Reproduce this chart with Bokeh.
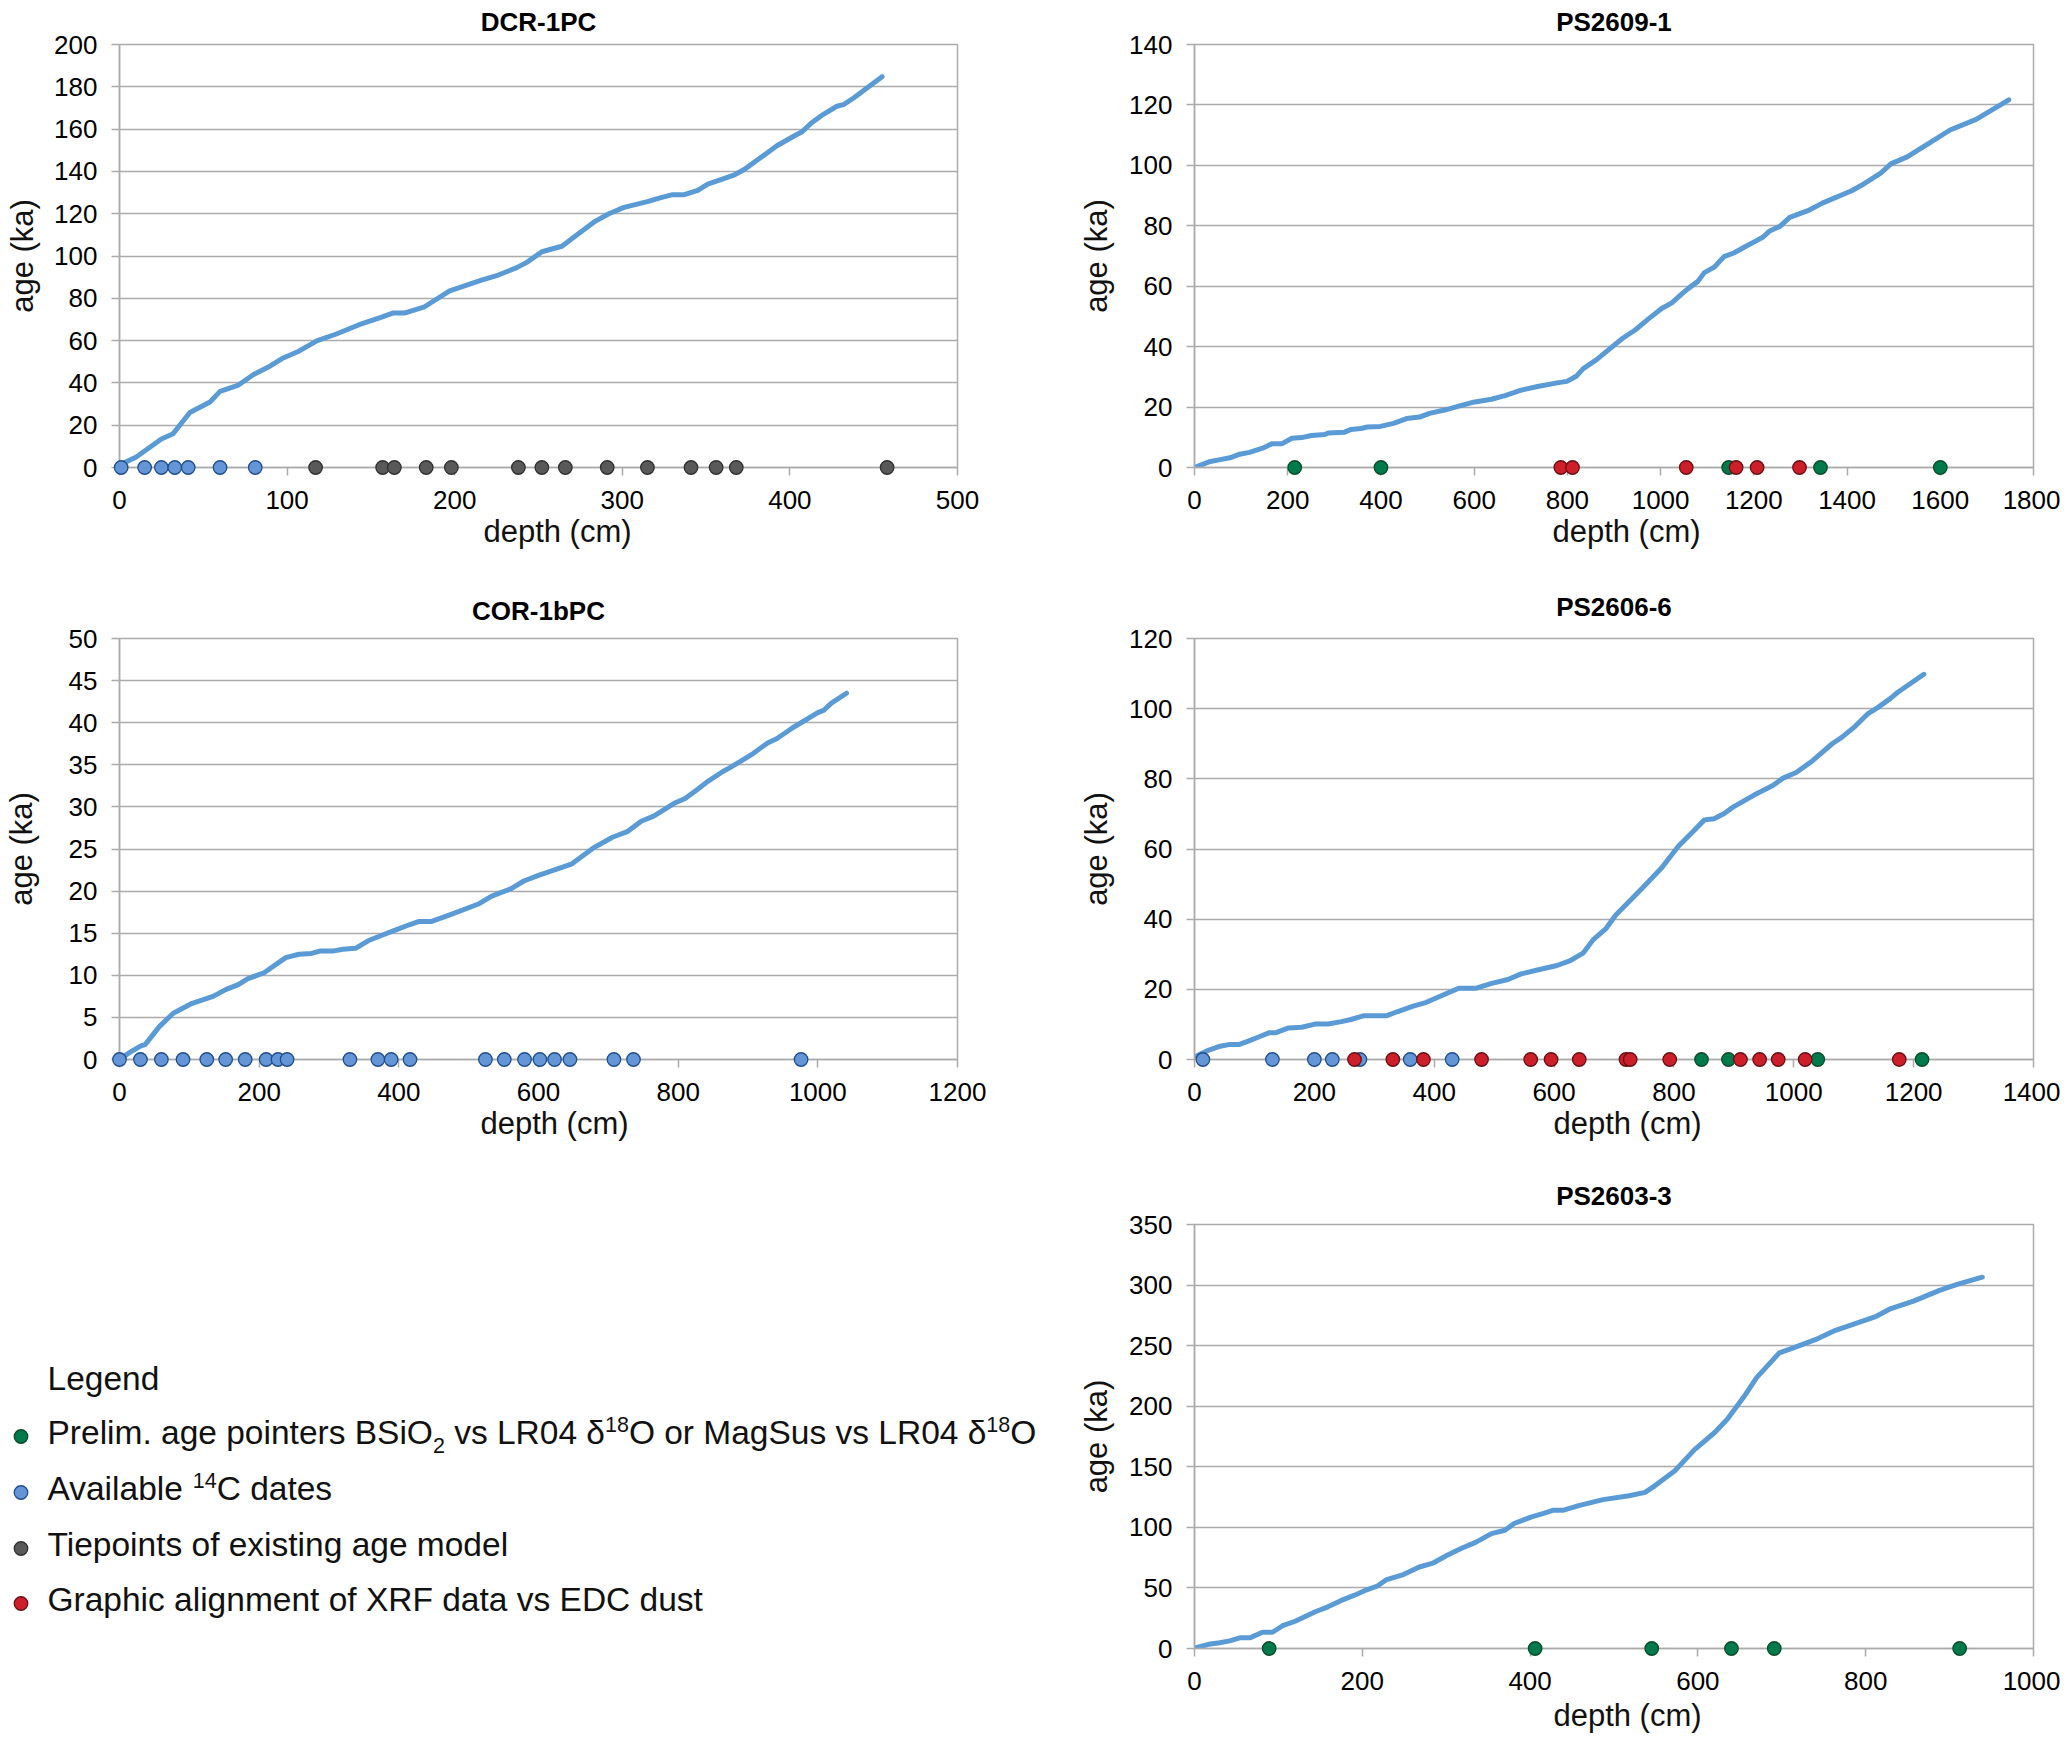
from bokeh.plotting import figure
from bokeh.models import Range1d, SingleIntervalTicker, Label, Title
from bokeh.layouts import row, column
from bokeh.embed import file_html
from bokeh.resources import INLINE

FONT = "Liberation Sans, Arial, sans-serif"
GRID = "#ABABAB"
LINE = "#5B9BD5"
C14_FILL, C14_EDGE = "#6495D6", "#1F4E8C"
TIE_FILL, TIE_EDGE = "#595959", "#303030"
GRN_FILL, GRN_EDGE = "#007A4A", "#0B4A2C"
RED_FILL, RED_EDGE = "#CC1F2A", "#6A0F14"

# ---------------- data ----------------
dcr_depth = [1, 10, 25, 32, 42, 54, 60, 71, 80, 90, 97, 107, 118, 129, 143, 156, 163, 170, 182, 197, 205,
             216, 226, 237, 243, 252, 264, 273, 284, 292, 301, 315, 322, 330, 337, 345, 351, 367, 373, 386,
             392, 402, 407, 413, 420, 428, 432, 438, 455]
dcr_age = [1.5, 5, 13.5, 16, 26, 31, 36, 39, 44, 48, 51.5, 55, 60, 63, 67.5, 71, 73, 73, 76, 83.5, 85.6,
           88.6, 91, 94.5, 97, 102, 104.6, 110, 116.5, 120, 123, 125.7, 127.4, 129, 129, 131, 134, 138.4, 141,
           148.5, 152, 156.5, 158.6, 163, 167, 170.8, 171.6, 174.7, 184.8]
dcr_c14 = [1, 15, 25, 33, 41, 60, 81]
dcr_tie = [117, 157, 164, 183, 198, 238, 252, 266, 291, 315, 341, 356, 368, 458]

ps2609_depth = [0, 34, 55, 76, 97, 118, 146, 167, 188, 209, 230, 251, 279, 287, 322, 336, 357, 371, 399, 427,
                455, 483, 504, 539, 567, 595, 637, 666, 701, 736, 778, 799, 820, 834, 862, 890, 918, 946, 974,
                1003, 1024, 1045, 1059, 1080, 1094, 1115, 1136, 1157, 1185, 1206, 1220, 1234, 1256, 1277, 1319,
                1347, 1410, 1431, 1473, 1494, 1529, 1578, 1621, 1677, 1747]
ps2609_age = [0, 2, 2.6, 3.2, 4.4, 5, 6.4, 7.9, 7.9, 9.7, 9.9, 10.6, 10.9, 11.4, 11.7, 12.6, 12.9, 13.4, 13.6,
              14.6, 16.2, 16.7, 17.9, 19.1, 20.3, 21.5, 22.6, 23.8, 25.6, 26.8, 28, 28.5, 30.3, 32.7, 35.6, 39.2,
              42.7, 45.6, 49.2, 52.7, 54.5, 57.4, 59.2, 61.6, 64.5, 66.3, 69.8, 71, 73.4, 75.1, 76.3, 78.3, 79.8,
              82.8, 85.2, 87.5, 91.6, 93.4, 97.5, 100.5, 102.8, 107.5, 111.7, 115.2, 121.7]
ps2609_green = [215, 400, 1146, 1343, 1600]
ps2609_red = [786, 811, 1055, 1162, 1207, 1298]

cor_depth = [3, 16, 30, 37, 57, 77, 102, 134, 152, 170, 184, 207, 238, 257, 275, 288, 307, 320, 338, 356, 374,
             393, 415, 429, 447, 474, 515, 533, 561, 579, 601, 647, 678, 706, 728, 747, 765, 796, 810, 828, 842,
             864, 873, 905, 928, 941, 964, 1000, 1009, 1019, 1041]
cor_age = [0.2, 0.9, 1.6, 1.8, 3.9, 5.5, 6.6, 7.5, 8.3, 8.9, 9.6, 10.3, 12.1, 12.5, 12.6, 12.9, 12.9, 13.1, 13.2,
           14.1, 14.7, 15.3, 16, 16.4, 16.4, 17.2, 18.5, 19.4, 20.3, 21.2, 21.9, 23.2, 25.1, 26.4, 27.1, 28.3,
           28.9, 30.5, 31, 32.1, 33, 34.2, 34.6, 36.2, 37.6, 38.1, 39.4, 41.2, 41.5, 42.3, 43.5]
cor_c14 = [0, 30, 60, 91, 125, 152, 180, 210, 227, 240, 330, 370, 389, 416, 524, 551, 580, 602, 623, 645, 708,
           736, 976]

ps2606_depth = [4, 24, 43, 59, 75, 92, 108, 124, 135, 157, 179, 201, 223, 245, 261, 283, 321, 338, 365, 387, 408,
                441, 469, 496, 523, 545, 572, 605, 627, 649, 665, 687, 703, 747, 780, 807, 829, 851, 867, 884,
                900, 933, 965, 982, 1004, 1031, 1064, 1080, 1102, 1124, 1140, 1162, 1173, 1217]
ps2606_age = [1.1, 2.7, 3.8, 4.3, 4.3, 5.4, 6.5, 7.6, 7.6, 9, 9.2, 10.1, 10.1, 10.8, 11.4, 12.5, 12.5, 13.6, 15.2,
              16.3, 17.9, 20.3, 20.3, 21.7, 22.8, 24.4, 25.5, 26.8, 28.2, 30.4, 34.1, 37.4, 41.2, 48.8, 54.7,
              60.7, 64.5, 68.3, 68.6, 70.1, 72.1, 75.3, 78.1, 80.2, 81.8, 85.1, 90, 91.8, 94.9, 98.6, 100.3,
              103, 104.6, 109.8]
ps2606_c14 = [14, 130, 200, 230, 276, 360, 430]
ps2606_green = [846, 891, 1040, 1214]
ps2606_red = [267, 331, 382, 479, 561, 595, 642, 720, 727, 793, 911, 943, 974, 1019, 1176]

ps2603_depth = [2, 19, 30, 42, 54, 66, 81, 93, 105, 120, 144, 159, 175, 190, 202, 218, 229, 249, 268, 284, 300,
                319, 335, 354, 370, 381, 401, 417, 428, 440, 459, 487, 518, 537, 549, 573, 596, 620, 635, 655,
                670, 697, 713, 740, 764, 791, 811, 830, 857, 888, 908, 939]
ps2603_age = [0.6, 3.8, 4.7, 6.3, 8.8, 8.8, 13.4, 13.4, 18.8, 22.5, 30.3, 34.4, 39.7, 43.8, 47.5, 51.6, 56.9, 61,
              67.3, 70.4, 76.6, 82.9, 87.6, 94.8, 97.6, 103.2, 108.5, 111.7, 114.2, 114.2, 118.2, 122.9, 126.1,
              128.9, 134.5, 147, 164.2, 178.3, 189.2, 208, 223.6, 244, 248, 254.9, 262.7, 269, 273.7, 280.6,
              286.8, 295.6, 300.3, 306.5]
ps2603_green = [89, 406, 545, 640, 691, 912]

x_title = "depth (cm)"
y_title = "age (ka)"
legend_title = "Legend"
legend_items = [
    [("Prelim. age pointers BSiO", "n"), ("2", "sub"), (" vs LR04 δ", "n"), ("18", "sup"),
     ("O or MagSus vs LR04 δ", "n"), ("18", "sup"), ("O", "n")],
    [("Available ", "n"), ("14", "sup"), ("C dates", "n")],
    [("Tiepoints of existing age model", "n")],
    [("Graphic alignment of XRF data vs EDC dust", "n")],
]
legend_colors = [(GRN_FILL, GRN_EDGE), (C14_FILL, C14_EDGE), (TIE_FILL, TIE_EDGE), (RED_FILL, RED_EDGE)]

# ---------------- layout geometry (page pixels) ----------------
COLW = [1040, 1020]
BORD_LR = [(114, 83), (154, 27)]
ROW_H = [572, 580, 592]
BORD_TB = [(44, 105), (66, 93), (72, 96)]

W = {' ': 278, '.': 278, '(': 333, ')': 333, 'A': 667, 'B': 667, 'C': 722, 'D': 722, 'E': 667, 'F': 611,
     'G': 778, 'L': 556, 'M': 833, 'O': 778, 'P': 667, 'R': 722, 'S': 667, 'T': 611, 'X': 667,
     'a': 556, 'b': 556, 'c': 500, 'd': 556, 'e': 556, 'f': 278, 'g': 556, 'h': 556, 'i': 222, 'k': 500,
     'l': 222, 'm': 833, 'n': 556, 'o': 556, 'p': 556, 'r': 333, 's': 500, 't': 278, 'u': 556, 'v': 500,
     'x': 500, 'y': 500, 'δ': 556}


def tw(s, fs):
    return sum(W.get(ch, 556) for ch in s) / 1000.0 * fs


def make_fig(col, rw, xr, yr):
    return figure(width=COLW[col], height=ROW_H[rw], x_range=xr, y_range=yr, title=None,
                  output_backend="svg", toolbar_location=None,
                  min_border_left=BORD_LR[col][0], min_border_right=BORD_LR[col][1],
                  min_border_top=BORD_TB[rw][0], min_border_bottom=BORD_TB[rw][1])


XL_FS = 31


def panel(col, rw, title, depth, age, xmax, xstep, ymax, ystep, markers, st):
    t_standoff, t_valign, x_standoff, x_center, y_standoff = st
    p = make_fig(col, rw, Range1d(0, xmax), Range1d(0, ymax))
    p.outline_line_color = GRID
    p.outline_line_width = 1.5
    p.background_fill_color = "white"
    p.border_fill_color = "white"
    p.xgrid.grid_line_color = None
    p.ygrid.grid_line_color = GRID
    p.ygrid.grid_line_width = 1.5
    p.xaxis.ticker = SingleIntervalTicker(interval=xstep, num_minor_ticks=0)
    p.yaxis.ticker = SingleIntervalTicker(interval=ystep, num_minor_ticks=0)
    for ax in (p.xaxis[0], p.yaxis[0]):
        ax.axis_line_color = GRID
        ax.axis_line_width = 1.5
        ax.major_tick_line_color = GRID
        ax.major_tick_line_width = 1.5
        ax.major_tick_in = 0
        ax.major_tick_out = 8
        ax.minor_tick_line_color = None
        ax.major_label_text_font = FONT
        ax.major_label_text_font_size = "26px"
        ax.major_label_text_color = "#000000"
    p.xaxis.major_label_standoff = 15
    p.yaxis.major_label_standoff = 14
    p.yaxis.axis_label = y_title
    p.yaxis.axis_label_text_font = FONT
    p.yaxis.axis_label_text_font_size = f"{XL_FS}px"
    p.yaxis.axis_label_text_font_style = "normal"
    p.yaxis.axis_label_text_color = "#111111"
    p.yaxis.axis_label_standoff = y_standoff

    p.add_layout(Title(text=title, align="center", standoff=t_standoff, vertical_align=t_valign,
                       text_font=FONT, text_font_size="26px", text_font_style="bold",
                       text_color="#000000"), "above")
    frame_left = BORD_LR[col][0] + (0 if col == 0 else COLW[0])
    xoff = x_center - tw(x_title, XL_FS) / 2 - frame_left
    p.add_layout(Title(text=x_title, align="left", offset=xoff, standoff=x_standoff,
                       text_font=FONT, text_font_size=f"{XL_FS}px", text_font_style="normal",
                       text_color="#111111"), "below")

    p.line(depth, age, line_width=5, line_color=LINE, line_join="round", line_cap="round")
    for xs, fill, edge in markers:
        r = p.scatter(xs, [0] * len(xs), size=13.5, fill_color=fill, line_color=edge, line_width=1.3)
        r.level = "overlay"
    return p


p1 = panel(0, 0, "DCR-1PC", dcr_depth, dcr_age, 500, 100, 200, 20,
           [(dcr_c14, C14_FILL, C14_EDGE), (dcr_tie, TIE_FILL, TIE_EDGE)],
           (12, "top", 0, 552, 11))
p3 = panel(0, 1, "COR-1bPC", cor_depth, cor_age, 1200, 200, 50, 5,
           [(cor_c14, C14_FILL, C14_EDGE)],
           (26, "bottom", 0, 549, 27))
p2 = panel(1, 0, "PS2609-1", ps2609_depth, ps2609_age, 1800, 200, 140, 20,
           [(ps2609_green, GRN_FILL, GRN_EDGE), (ps2609_red, RED_FILL, RED_EDGE)],
           (12, "top", 0, 1626, 12))
p4 = panel(1, 1, "PS2606-6", ps2606_depth, ps2606_age, 1400, 200, 120, 20,
           [(ps2606_c14, C14_FILL, C14_EDGE), (ps2606_green, GRN_FILL, GRN_EDGE),
            (ps2606_red, RED_FILL, RED_EDGE)],
           (33, "bottom", 0, 1627, 12))
p5 = panel(1, 2, "PS2603-3", ps2603_depth, ps2603_age, 1000, 200, 350, 50,
           [(ps2603_green, GRN_FILL, GRN_EDGE)],
           (28, "bottom", 6, 1627, 12))

# ---------------- legend ----------------
LY0 = sum(ROW_H[:2])
LW, LH = COLW[0], ROW_H[2]
leg = figure(width=LW, height=LH, x_range=Range1d(0, LW), y_range=Range1d(LY0 + LH, LY0), title=None,
             output_backend="svg", toolbar_location=None, x_axis_location=None, y_axis_location=None,
             min_border_left=0, min_border_right=0, min_border_top=0, min_border_bottom=0)
try:
    leg.frame_align = False
except Exception:
    pass
leg.grid.grid_line_color = None
leg.outline_line_color = None
leg.background_fill_color = "white"
leg.border_fill_color = "white"

FS, FSS = 33.5, 21.5
TX = 47
SHIFT = 0.39   # empirical correction of the alphabetic baseline placement (fraction of font size)


def put(x, baseline, text, fs):
    leg.add_layout(Label(x=x, y=baseline - SHIFT * fs, text=text, text_font=FONT, text_font_size=f"{fs}px",
                         text_baseline="alphabetic", text_align="left", text_color="#111111"))


put(TX, 1379 + 0.358 * FS, legend_title, FS)
item_centers = [1433, 1489, 1545, 1600]
for segs, cy in zip(legend_items, item_centers):
    base = cy + 0.358 * FS
    x = TX
    for s, kind in segs:
        if kind == "n":
            fs, yb = FS, base
        elif kind == "sup":
            fs, yb = FSS, base - 13
        else:
            fs, yb = FSS, base + 8
        core = s.strip(" ")
        lead = len(s) - len(s.lstrip(" "))
        x += tw(" " * lead, fs)
        put(x, yb, core, fs)
        x += tw(s[lead:], fs)
r = leg.scatter([20.5] * 4, [c + 3 for c in item_centers], size=13.5,
                fill_color=[c[0] for c in legend_colors], line_color=[c[1] for c in legend_colors],
                line_width=1.3)
r.level = "overlay"

layout = row(column(p1, p3, leg), column(p2, p4, p5))
open("out.html", "w").write(file_html(layout, INLINE))
